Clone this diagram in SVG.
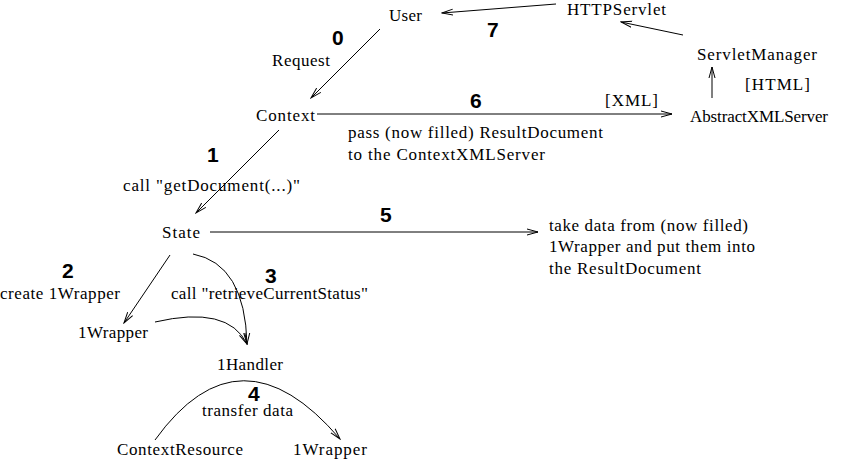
<svg xmlns="http://www.w3.org/2000/svg" width="857" height="461" viewBox="0 0 857 461">
<style>
.t{font-family:"Liberation Serif","Times New Roman",serif;font-size:17px;fill:#000}
.n{font-family:"Liberation Sans",Arial,sans-serif;font-size:21px;font-weight:bold;fill:#000}
.c{fill:none;stroke:#000;stroke-width:1}
</style>
<defs>
<marker id="a" markerWidth="12" markerHeight="8" refX="11" refY="4" orient="auto" markerUnits="userSpaceOnUse">
<path d="M0,1 L11,4 L0,7" fill="none" stroke="#000" stroke-width="1"/>
</marker>
</defs>
<rect width="857" height="461" fill="#fff"/>
<g id="connectors">
<line class="c" x1="556" y1="4" x2="442" y2="13" marker-end="url(#a)"/>
<line class="c" x1="683" y1="35" x2="621" y2="22" marker-end="url(#a)"/>
<line class="c" x1="712" y1="98" x2="712" y2="67" marker-end="url(#a)"/>
<line class="c" x1="380" y1="29" x2="311" y2="98" marker-end="url(#a)"/>
<line class="c" x1="317" y1="114" x2="672" y2="114" marker-end="url(#a)"/>
<line class="c" x1="279" y1="130" x2="196" y2="213" marker-end="url(#a)"/>
<line class="c" x1="210" y1="232" x2="538" y2="232" marker-end="url(#a)"/>
<line class="c" x1="170" y1="255" x2="124" y2="323" marker-end="url(#a)"/>
<path class="c" d="M193,254 Q245,264 247,344" marker-end="url(#a)"/>
<path class="c" d="M155,322 Q228,305 247,344" marker-end="url(#a)"/>
<path class="c" d="M155,440 Q240,322 340,439" marker-end="url(#a)"/>
</g>
<g id="labels">
<text class="n" x="332" y="45">0</text>
<text class="t" x="272" y="66" textLength="58">Request</text>
<text class="n" x="487" y="37">7</text>
<text class="t" x="745" y="90" textLength="65">[HTML]</text>
<text class="t" x="605" y="106" textLength="53">[XML]</text>
<text class="n" x="470" y="108">6</text>
<text class="t" x="348" y="138" textLength="255">pass (now filled) ResultDocument</text>
<text class="t" x="348" y="160" textLength="197">to the ContextXMLServer</text>
<text class="n" x="207" y="162">1</text>
<text class="t" x="123" y="191" textLength="177">call "getDocument(...)"</text>
<text class="n" x="380" y="222">5</text>
<text class="t" x="549" y="231" textLength="199">take data from (now filled)</text>
<text class="t" x="549" y="252" textLength="206">1Wrapper and put them into</text>
<text class="t" x="549" y="274" textLength="152">the ResultDocument</text>
<text class="n" x="62" y="278">2</text>
<text class="t" x="0" y="299" textLength="120">create 1Wrapper</text>
<text class="n" x="265" y="283">3</text>
<text class="t" x="171" y="299" textLength="197">call "retrieveCurrentStatus"</text>
<text class="n" x="248" y="401">4</text>
<text class="t" x="202" y="416" textLength="91">transfer data</text>
</g>
<g id="user"><text class="t" x="389" y="21" textLength="33">User</text></g>
<g id="httpservlet"><text class="t" x="567" y="15" textLength="99">HTTPServlet</text></g>
<g id="servletmanager"><text class="t" x="697" y="60" textLength="120">ServletManager</text></g>
<g id="abstractxmlserver"><text class="t" x="690" y="122" textLength="138">AbstractXMLServer</text></g>
<g id="context"><text class="t" x="256" y="121" textLength="59">Context</text></g>
<g id="state"><text class="t" x="162" y="238" textLength="38">State</text></g>
<g id="lwrapper1"><text class="t" x="78" y="338" textLength="70">1Wrapper</text></g>
<g id="lhandler"><text class="t" x="217" y="370" textLength="66">1Handler</text></g>
<g id="contextresource"><text class="t" x="117" y="455" textLength="126">ContextResource</text></g>
<g id="lwrapper2"><text class="t" x="293" y="455" textLength="74">1Wrapper</text></g>
</svg>
